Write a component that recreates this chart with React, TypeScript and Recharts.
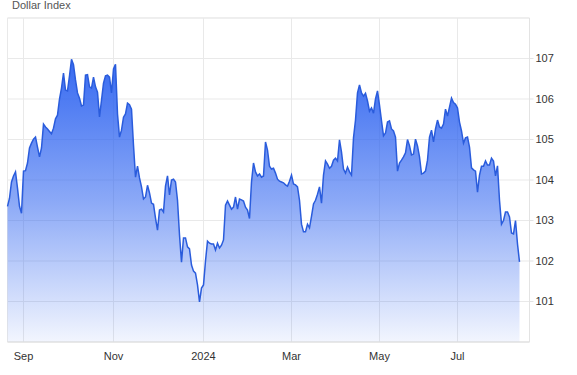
import { AreaChart, Area, XAxis, YAxis, CartesianGrid, ReferenceLine } from "recharts"

// dollar index, one value per trading day
const values = [
  103.35, 103.55, 103.95, 104.1, 104.2, 103.8, 103.35, 103.18, 104.22, 104.23,
  104.42, 104.79, 104.91, 105.01, 105.06, 104.81, 104.57, 104.79, 105.38, 105.31,
  105.26, 105.2, 105.14, 105.28, 105.51, 105.6, 106.0, 106.27, 106.64, 106.22,
  106.2, 106.57, 106.98, 106.85, 106.47, 106.15, 106.02, 105.83, 105.85, 106.59,
  106.6, 106.3, 106.27, 106.54, 106.3, 106.17, 105.56, 105.97, 106.39, 106.57,
  106.59, 106.54, 106.15, 106.74, 106.86, 105.63, 105.06, 105.23, 105.55, 105.63,
  105.9, 105.86, 105.75, 104.86, 104.07, 104.34, 104.05, 103.83, 103.53, 103.58,
  103.87, 103.68, 103.43, 103.4, 103.06, 102.76, 103.26, 103.28, 103.21, 103.85,
  104.1, 103.63, 104.0, 104.02, 103.95, 103.5, 102.64, 101.97, 102.57, 102.57,
  102.35, 102.3, 101.9, 101.75, 101.7, 101.41, 100.99, 101.33, 101.41, 102.0,
  102.49, 102.44, 102.42, 102.42, 102.27, 102.44, 102.32, 102.39, 102.52, 103.38,
  103.48, 103.38, 103.28, 103.33, 103.58, 103.28, 103.53, 103.51, 103.48, 103.33,
  103.26, 103.05, 103.95, 104.42, 104.2, 104.1, 104.15, 104.07, 104.1, 104.94,
  104.74, 104.34, 104.27, 104.29, 104.17, 104.02, 103.97, 103.95, 103.93, 103.88,
  103.85, 103.97, 104.12, 103.9, 103.88, 103.83, 103.5, 102.91, 102.72, 102.72,
  102.91, 102.82, 103.1, 103.41, 103.5, 103.65, 103.83, 103.43, 104.12, 104.47,
  104.39, 104.29, 104.34, 104.49, 104.54, 104.47, 104.99, 104.69, 104.27, 104.17,
  104.32, 104.2, 104.12, 105.04, 105.48, 106.15, 106.35, 106.15, 106.07, 106.14,
  105.95, 105.7, 105.78, 105.65, 106.0, 106.2, 105.85, 105.46, 105.09, 105.16,
  105.43, 105.46, 105.26, 105.21, 105.06, 104.22, 104.42, 104.49, 104.57, 104.67,
  105.0, 104.85, 104.62, 104.64, 105.01, 104.84, 104.57, 104.15, 104.17, 104.22,
  104.49, 105.06, 105.23, 104.94, 105.26, 105.48, 105.31, 105.28, 105.38, 105.75,
  105.58, 105.8, 106.02, 105.91, 105.87, 105.78, 105.43, 105.21, 104.91, 105.04,
  105.06, 104.81, 104.3, 104.25, 104.22, 103.7, 104.12, 104.34, 104.34, 104.47,
  104.37, 104.37, 104.54, 104.47, 104.1, 104.35, 103.5, 102.91, 103.0, 103.21,
  103.21, 103.09, 102.69, 102.67, 103.0, 102.42, 101.98,
]

// index of the first trading day of each labelled month
const monthStarts = [8, 53, 98, 142, 186, 225]
const monthLabels = ["Sep", "Nov", "2024", "Mar", "May", "Jul"]

const yTicks = [101, 102, 103, 104, 105, 106, 107]

const data = values.map((v, i) => ({ i, v }))

function App() {
  const label = (t: number) => monthLabels[monthStarts.indexOf(t)] ?? ""

  return (
    <div
      style={{
        position: "absolute",
        left: 0,
        top: 0,
        width: 577,
        height: 375,
        background: "#fff",
        fontFamily: "'Liberation Sans', Arial, sans-serif",
      }}
    >
      <div
        style={{
          position: "absolute",
          left: 12,
          top: 0,
          fontSize: 11,
          lineHeight: "11px",
          color: "#555",
        }}
      >
        Dollar Index
      </div>
      <AreaChart
        width={577}
        height={375}
        data={data}
        margin={{ top: 18, right: 7.5, bottom: 0, left: 7.5 }}
      >
        <defs>
          <linearGradient id="fillGrad" x1="0" y1="0" x2="0" y2="1">
            <stop offset="0%" stopColor="#2c62f0" stopOpacity={0.95} />
            <stop offset="50%" stopColor="#2c62f0" stopOpacity={0.55} />
            <stop offset="100%" stopColor="#2c62f0" stopOpacity={0.06} />
          </linearGradient>
        </defs>
        <CartesianGrid stroke="#e9e9e9" />
        <ReferenceLine y={108} stroke="#e9e9e9" />
        <XAxis
          dataKey="i"
          type="number"
          domain={[0, 261]}
          ticks={monthStarts}
          interval={0}
          tickFormatter={label}
          tickLine={false}
          tickSize={0}
          tickMargin={10}
          axisLine={{ stroke: "#dcdcdc" }}
          tick={{ fontSize: 11, fill: "#333" }}
          height={33}
        />
        <YAxis
          orientation="right"
          domain={[100, 108]}
          ticks={yTicks}
          interval={0}
          width={40}
          tickSize={4}
          tickMargin={2}
          axisLine={{ stroke: "#e3e3e3" }}
          tickLine={{ stroke: "#e3e3e3" }}
          tick={{ fontSize: 11, fill: "#333" }}
        />
        <Area
          type="linear"
          dataKey="v"
          stroke="#2a5cdc"
          strokeWidth={1.5}
          fill="url(#fillGrad)"
          fillOpacity={1}
          isAnimationActive={false}
          dot={false}
          activeDot={false}
        />
      </AreaChart>
    </div>
  )
}

export default App
